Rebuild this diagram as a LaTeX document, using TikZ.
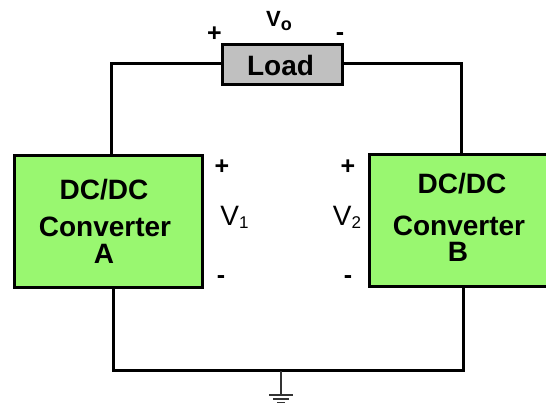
\documentclass[tikz,border=0pt]{standalone}
\usepackage{fontspec}
\setmainfont{Liberation Sans}
\usepackage{xcolor}
\usetikzlibrary{positioning,calc}
\definecolor{ConvGreen}{RGB}{153,247,112}
\definecolor{LoadGray}{RGB}{192,192,192}
\tikzset{
  wire/.style={line width=3pt,line join=miter},
  gndline/.style={line width=2.4pt,black!80},
  convbox/.style={draw,line width=3pt,fill=ConvGreen,inner sep=0pt},
  loadbox/.style={draw,line width=3pt,fill=LoadGray,inner sep=0pt,minimum width=120pt,minimum height=40pt},
  convtext/.style={font=\fontsize{28}{28}\selectfont\bfseries,inner sep=0pt},
  signtext/.style={font=\fontsize{25}{25}\selectfont\bfseries,inner sep=0pt},
  volttext/.style={font=\fontsize{28}{28}\selectfont,inner sep=0pt},
}
\begin{document}
\begin{tikzpicture}[x=1pt,y=1pt]
\useasboundingbox (0,0) rectangle (546,403);
% Converters
\node[convbox,minimum width=188pt,minimum height=132pt] (convA) at (108.5,181.5) {};
\node[convbox,minimum width=180pt,minimum height=132pt] (convB) at (459,182.5) {};
\node[loadbox] (load) at (282.5,338.5) {};
\node[convtext] (loadtxt) at (280.5,337) {Load};
% Box labels
\node[convtext] (dcA) at (104,213) {DC/DC};
\node[convtext] (cvA) at (105,176) {Converter};
\node[convtext] (nmA) at (104,149) {A};
\node[convtext] (dcB) at (462,219) {DC/DC};
\node[convtext] (cvB) at (459,177) {Converter};
\node[convtext] (nmB) at (458,151.5) {B};
% Wires
\coordinate (topL) at (111,339.5);
\coordinate (topR) at (461,339.5);
\coordinate (botL) at (113,32);
\coordinate (botR) at (463,32);
\coordinate (gndtop) at (281,32);
\coordinate (gndbar) at (281,8);
\draw[wire] (load.west |- topL) -- (topL) -- (topL |- convA.north);
\draw[wire] (load.east |- topR) -- (topR) -- (topR |- convB.north);
\draw[wire] (botL |- convA.south) -- (botL) -- (botR) -- (botR |- convB.south);
% Ground
\draw[gndline] (gndtop) -- (gndbar);
\draw[gndline] ($(gndbar)+(-12,0)$) -- ($(gndbar)+(12,0)$);
\draw[gndline] ($(gndbar)+(-8,-4)$) -- ($(gndbar)+(8,-4)$);
\draw[gndline] ($(gndbar)+(-4,-8)$) -- ($(gndbar)+(4,-8)$);
% Polarity
\node[signtext] (pL) at (214.5,369) {+};
\node[signtext] (mL) at (340,366) {-};
\node[signtext] (pA) at (222,236) {+};
\node[signtext] (mA) at (221,123) {-};
\node[signtext] (pB) at (348,236) {+};
\node[signtext] (mB) at (348,123) {-};
% Voltages
\node[font=\fontsize{22}{22}\selectfont\bfseries,inner sep=0pt] (vo) at (279,382) {V\raisebox{-4pt}{\fontsize{18}{18}\selectfont\bfseries o}};
\node[volttext] (v1) at (234.5,186) {V\raisebox{-3pt}{\fontsize{17}{17}\selectfont 1}};
\node[volttext] (v2) at (347,186) {V\raisebox{-3pt}{\fontsize{17}{17}\selectfont 2}};
\end{tikzpicture}
\end{document}
